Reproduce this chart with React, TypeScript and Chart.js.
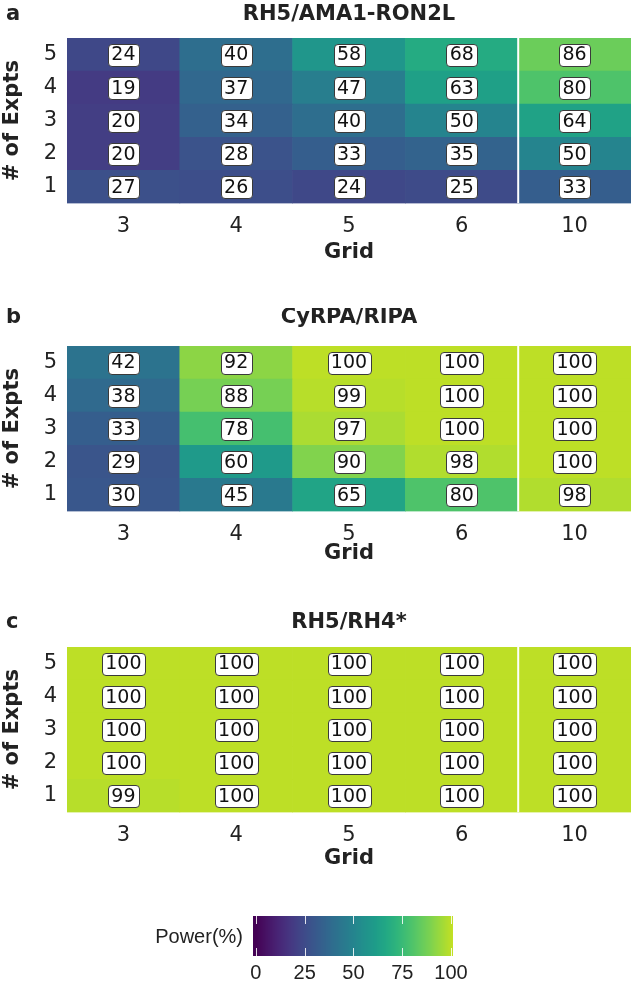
import React, { useEffect, useRef } from 'react';
import { Chart, registerables } from 'chart.js';

Chart.register(...registerables);

// ---------------- data ----------------
const gridCategories = ['3', '4', '5', '6', '10'];
const exptRows = [1, 2, 3, 4, 5];

// rows: # of Expts 1..5 ; columns: Grid 3,4,5,6,10
const rh5Ama1Values = [
  [27, 26, 24, 25, 33],
  [20, 28, 33, 35, 50],
  [20, 34, 40, 50, 64],
  [19, 37, 47, 63, 80],
  [24, 40, 58, 68, 86],
];
const cyrpaRipaValues = [
  [30, 45, 65, 80, 98],
  [29, 60, 90, 98, 100],
  [33, 78, 97, 100, 100],
  [38, 88, 99, 100, 100],
  [42, 92, 100, 100, 100],
];
const rh5Rh4Values = [
  [99, 100, 100, 100, 100],
  [100, 100, 100, 100, 100],
  [100, 100, 100, 100, 100],
  [100, 100, 100, 100, 100],
  [100, 100, 100, 100, 100],
];
const panelTitles = ['RH5/AMA1-RON2L', 'CyRPA/RIPA', 'RH5/RH4*'];
const panelLetters = ['a', 'b', 'c'];
const colorbarTicks = [0, 25, 50, 75, 100];
const colorbarRange = [-1.5, 101];
const colorbarLabel = 'Power(%)';

// viridis colormap stops (every 0.05)
const viridisStops = [
  '#440154', '#471365', '#482475', '#463480', '#414487', '#3b528b', '#355f8d',
  '#2f6c8e', '#2a788e', '#25848e', '#21918c', '#1e9c89', '#22a884', '#2fb47c',
  '#44bf70', '#5ec962', '#7ad151', '#9bd93c', '#bddf26', '#dfe318', '#fde725',
];
const viridisEnd = 0.9;

const FONT = '"DejaVu Sans", "Liberation Sans", sans-serif';
const FONT_CB = '"Liberation Sans", Arial, sans-serif';
const TEXT = '#222222';

function hexToRgb(h: string) {
  return [parseInt(h.slice(1, 3), 16), parseInt(h.slice(3, 5), 16), parseInt(h.slice(5, 7), 16)];
}
const viridisRgb = viridisStops.map(hexToRgb);

function powerColor(v: number) {
  let t = (v / 100) * viridisEnd;
  t = Math.max(0, Math.min(1, t));
  const f = t * (viridisRgb.length - 1);
  const i = Math.min(viridisRgb.length - 2, Math.floor(f));
  const u = f - i;
  const a = viridisRgb[i];
  const b = viridisRgb[i + 1];
  const c = a.map((x, k) => Math.round(x + (b[k] - x) * u));
  return `rgb(${c[0]},${c[1]},${c[2]})`;
}

// ---------------- layout ----------------
const W = 632;
const PLOT_TOP = 38;
const PLOT_H = 165;
const Y_AXIS_W = 67;
const TICK_SIZE = 21;
const TITLE_SIZE = 21;

type PanelLayout = { top: number; titleBase: number; gridOffset: number };
const panelLayouts: PanelLayout[] = [
  { top: 0, titleBase: -18, gridOffset: 49 },
  { top: 308, titleBase: -23, gridOffset: 42 },
  { top: 609, titleBase: -19, gridOffset: 46 },
];

function roundRect(ctx: CanvasRenderingContext2D, x: number, y: number, w: number, h: number, r: number) {
  ctx.beginPath();
  ctx.moveTo(x + r, y);
  ctx.lineTo(x + w - r, y);
  ctx.arcTo(x + w, y, x + w, y + r, r);
  ctx.lineTo(x + w, y + h - r);
  ctx.arcTo(x + w, y + h, x + w - r, y + h, r);
  ctx.lineTo(x + r, y + h);
  ctx.arcTo(x, y + h, x, y + h - r, r);
  ctx.lineTo(x, y + r);
  ctx.arcTo(x, y, x + r, y, r);
  ctx.closePath();
}

function HeatPanel({ values, title, letter, layout }: { values: number[][]; title: string; letter: string; layout: PanelLayout }) {
  const ref = useRef<HTMLCanvasElement | null>(null);
  const axisH = layout.gridOffset + (TITLE_SIZE * 1.2) / 2;
  const height = Math.round(PLOT_TOP + PLOT_H + axisH);
  useEffect(() => {
    if (!ref.current) return;
    const datasets = exptRows.map((r, ri) => ({
      label: 'Expts ' + r,
      data: values[ri].map(() => [r - 0.5, r + 0.5]),
      backgroundColor: values[ri].map((v) => powerColor(v)),
      borderWidth: 0,
      barPercentage: 1,
      categoryPercentage: 1,
      grouped: false,
    }));
    const labelPlugin = {
      id: 'cellLabels',
      afterDatasetsDraw(chart: any) {
        const { ctx, chartArea, scales } = chart;
        const xs = scales.x;
        const ys = scales.y;
        ctx.save();
        // separator between 6 and 10
        const sx = (xs.getPixelForValue(3) + xs.getPixelForValue(4)) / 2;
        ctx.strokeStyle = '#ffffff';
        ctx.lineWidth = 2;
        ctx.beginPath();
        ctx.moveTo(sx, chartArea.top);
        ctx.lineTo(sx, chartArea.bottom);
        ctx.stroke();
        ctx.font = `19px ${FONT}`;
        ctx.textAlign = 'center';
        ctx.textBaseline = 'middle';
        exptRows.forEach((r, ri) => {
          values[ri].forEach((v, ci) => {
            const cx = xs.getPixelForValue(ci);
            const cy = ys.getPixelForValue(r);
            const txt = String(v);
            const tw = ctx.measureText(txt).width;
            const bw = Math.round(tw + 7);
            const bh = 22;
            const bx = Math.round(cx - bw / 2) + 0.5;
            const by = Math.round(cy - bh / 2) + 0.5;
            roundRect(ctx, bx, by, bw, bh, 3.5);
            ctx.fillStyle = '#ffffff';
            ctx.fill();
            ctx.strokeStyle = '#3a3a3a';
            ctx.lineWidth = 1;
            ctx.stroke();
            ctx.fillStyle = '#111111';
            ctx.fillText(txt, cx, cy + 1);
          });
        });
        ctx.restore();
      },
      afterDraw(chart: any) {
        const { ctx, chartArea } = chart;
        ctx.save();
        ctx.fillStyle = TEXT;
        ctx.textBaseline = 'alphabetic';
        ctx.font = `bold ${TITLE_SIZE}px ${FONT}`;
        ctx.textAlign = 'center';
        ctx.fillText(title, (chartArea.left + chartArea.right) / 2, chartArea.top + layout.titleBase);
        ctx.font = `bold 21px ${FONT}`;
        ctx.textAlign = 'left';
        ctx.fillText(letter, 6, chartArea.top + layout.titleBase);
        ctx.restore();
      },
    };
    const chart = new Chart(ref.current, {
      type: 'bar',
      data: { labels: gridCategories, datasets: datasets as any },
      options: {
        animation: false,
        responsive: false,
        maintainAspectRatio: false,
        layout: { padding: { top: PLOT_TOP, right: 1, left: 0, bottom: 0 } },
        plugins: { legend: { display: false }, tooltip: { enabled: false } },
        scales: {
          x: {
            type: 'category',
            grid: { display: false, drawTicks: false },
            border: { display: false },
            ticks: { color: TEXT, font: { family: FONT, size: TICK_SIZE }, padding: 11 },
            title: {
              display: true,
              text: 'Grid',
              color: TEXT,
              font: { family: FONT, size: TITLE_SIZE, weight: 'bold' },
              padding: { top: 0, bottom: 0 },
            },
            afterFit: (s: any) => {
              s.height = axisH;
            },
          },
          y: {
            type: 'linear',
            min: 0.5,
            max: 5.5,
            grid: { display: false, drawTicks: false },
            border: { display: false },
            afterBuildTicks: (s: any) => {
              s.ticks = exptRows.map((v) => ({ value: v }));
            },
            ticks: { color: TEXT, font: { family: FONT, size: TICK_SIZE }, padding: 10 },
            title: {
              display: true,
              text: '# of Expts',
              color: TEXT,
              font: { family: FONT, size: TITLE_SIZE, weight: 'bold' },
              padding: { top: 0, bottom: 0 },
            },
            afterFit: (s: any) => {
              s.width = Y_AXIS_W;
            },
          },
        },
      } as any,
      plugins: [labelPlugin],
    });
    return () => chart.destroy();
  }, []);
  return (
    <canvas
      ref={ref}
      width={W}
      height={height}
      style={{ position: 'absolute', left: 0, top: layout.top, width: W, height }}
    />
  );
}

function ColorBar() {
  const ref = useRef<HTMLCanvasElement | null>(null);
  const top = 880;
  const height = 102;
  useEffect(() => {
    if (!ref.current) return;
    const barPlugin = {
      id: 'colorbar',
      beforeDatasetsDraw(chart: any) {
        const { ctx, chartArea, scales } = chart;
        const xs = scales.x;
        ctx.save();
        for (let px = Math.floor(chartArea.left); px < Math.ceil(chartArea.right); px++) {
          const v = xs.getValueForPixel(px + 0.5);
          ctx.fillStyle = powerColor(v);
          ctx.fillRect(px, chartArea.top, 1, chartArea.bottom - chartArea.top);
        }
        ctx.strokeStyle = 'rgba(255,255,255,0.85)';
        ctx.lineWidth = 1;
        const tl = 8;
        colorbarTicks.forEach((t) => {
          const x = Math.round(xs.getPixelForValue(t)) + 0.5;
          ctx.beginPath();
          ctx.moveTo(x, chartArea.top);
          ctx.lineTo(x, chartArea.top + tl);
          ctx.moveTo(x, chartArea.bottom);
          ctx.lineTo(x, chartArea.bottom - tl);
          ctx.stroke();
        });
        ctx.fillStyle = TEXT;
        ctx.font = `20px ${FONT_CB}`;
        ctx.textAlign = 'right';
        ctx.textBaseline = 'middle';
        ctx.fillText(colorbarLabel, chartArea.left - 10, (chartArea.top + chartArea.bottom) / 2 + 1);
        ctx.restore();
      },
    };
    const chart = new Chart(ref.current, {
      type: 'scatter',
      data: { datasets: [{ data: [] }] },
      options: {
        animation: false,
        responsive: false,
        maintainAspectRatio: false,
        layout: { padding: { top: 36, left: 253, right: 179, bottom: 0 } },
        plugins: { legend: { display: false }, tooltip: { enabled: false } },
        scales: {
          x: {
            type: 'linear',
            min: colorbarRange[0],
            max: colorbarRange[1],
            grid: { display: false, drawTicks: false },
            border: { display: false },
            afterBuildTicks: (s: any) => {
              s.ticks = colorbarTicks.map((v) => ({ value: v }));
            },
            ticks: { color: TEXT, font: { family: FONT_CB, size: 20 }, padding: 5 },
            afterFit: (s: any) => {
              s.height = 26;
            },
          },
          y: { display: false, min: 0, max: 1 },
        },
      } as any,
      plugins: [barPlugin],
    });
    return () => chart.destroy();
  }, []);
  return (
    <canvas
      ref={ref}
      width={W}
      height={height}
      style={{ position: 'absolute', left: 0, top, width: W, height }}
    />
  );
}

export default function App() {
  const panels = [rh5Ama1Values, cyrpaRipaValues, rh5Rh4Values];
  return (
    <div style={{ position: 'absolute', left: 0, top: 0, width: W, height: 982, background: '#ffffff', overflow: 'hidden' }}>
      {panels.map((vals, i) => (
        <HeatPanel key={i} values={vals} title={panelTitles[i]} letter={panelLetters[i]} layout={panelLayouts[i]} />
      ))}
      <ColorBar />
    </div>
  );
}
